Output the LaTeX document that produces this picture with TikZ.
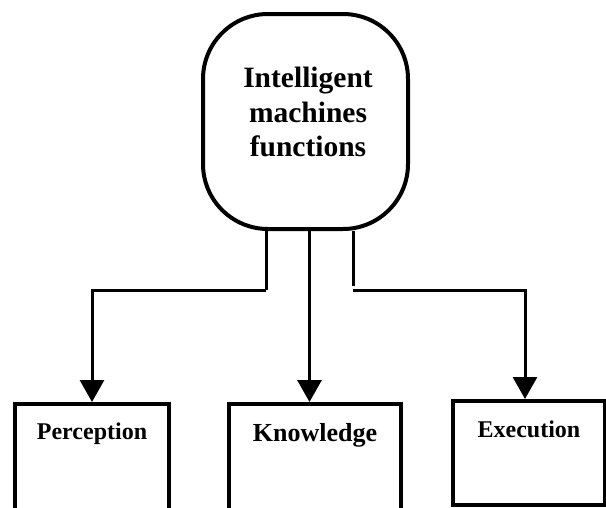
\documentclass[tikz,border=0pt]{standalone}
\usepackage{fontspec}
\setmainfont{Liberation Serif}
\usetikzlibrary{shapes.geometric, arrows.meta}

\begin{document}
\begin{tikzpicture}[x=1pt, y=1pt, font=\bfseries]
	\tikzstyle{funcs} = [rectangle, rounded corners=65pt, minimum width=205pt, minimum height=215pt, draw=black, line width=4pt]
	
	\tikzstyle{maintext} = [align=center, font=\fontsize{29.5}{34.5}\selectfont\bfseries]
	
	\tikzstyle{category} = [rectangle, anchor=north, inner sep=0pt, draw=black, line width=4pt, font=\fontsize{24}{28}\selectfont\bfseries]
	
	\tikzstyle{link} = [line width=3pt]
	\tikzstyle{arrow} = [line width=3pt, -{Triangle[length=22pt, width=24pt]}]
	
	\useasboundingbox (0,0) rectangle (606,-507);
	
	% Top node
	\node (imf) [funcs] at (305.5,-121.5) {};
	\node (imftext) [maintext] at (308,-112) {Intelligent\\machines\\functions};
	
	% Level 1 nodes
	\node (perc) [category, minimum width=154pt, text height=35pt, text depth=101pt] at (92,-402) {Perception};
	\node (know) [category, minimum width=172pt, text height=37pt, text depth=99pt, font=\fontsize{26}{30}\selectfont\bfseries] at (315,-402) {Knowledge};
	\node (exec) [category, minimum width=152pt, text height=36pt, text depth=68pt] at (529,-399) {Execution};
	
	% Junctions
	\coordinate (lj) at (266,-290);
	\coordinate (rj) at (353,-290);
	
	% Arrows
	\draw [link] (imf.south -| lj) -- (lj);
	\draw [arrow] (lj) -| (perc);
	\draw [arrow] ([xshift=4pt]imf.south) -- ([xshift=4pt]imf.south |- know.north);
	\draw [link] (imf.south -| rj) -- ([yshift=4pt]rj);
	\draw [arrow] (rj) -| ([xshift=-4pt]exec.north);
\end{tikzpicture}
\end{document}
